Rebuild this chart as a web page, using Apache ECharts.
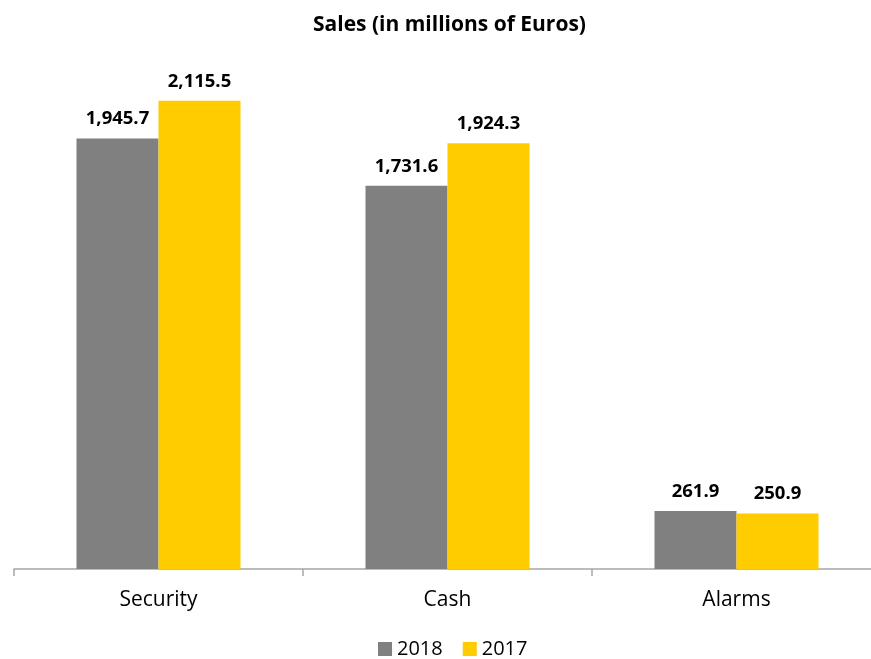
<!DOCTYPE html>
<html>
<head>
<meta charset="utf-8">
<script src="https://cdn.jsdelivr.net/npm/echarts@6/dist/echarts.min.js"></script>
<style>
  html, body { margin: 0; padding: 0; background: #fff; }
  #chart { width: 871px; height: 659px; }
</style>
</head>
<body>
<div id="chart"></div>
<script>
const categories = ["Security", "Cash", "Alarms"];
const sales2018 = [1945.7, 1731.6, 261.9];
const sales2017 = [2115.5, 1924.3, 250.9];
const seriesNames = ["2018", "2017"];

const fontFamily = "'Open Sans', Lato, sans-serif";

function fmt(v) {
  return v.toLocaleString("en-US", { minimumFractionDigits: 1, maximumFractionDigits: 1 });
}

const chart = echarts.init(document.getElementById("chart"));

chart.setOption({
  animation: false,
  title: {
    text: "Sales (in millions of Euros)",
    left: 308,
    top: 10,
    textStyle: { fontFamily: fontFamily, fontSize: 21, fontWeight: "bold", color: "#000" }
  },
  legend: {
    data: seriesNames,
    top: 634,
    left: 373,
    itemWidth: 14,
    itemHeight: 14,
    itemGap: 20,
    icon: "rect",
    textStyle: { fontFamily: fontFamily, fontSize: 20, color: "#000" }
  },
  grid: { left: 14, width: 867, top: 60, bottom: 90, outerBoundsMode: "none" },
  xAxis: {
    type: "category",
    data: categories,
    axisLine: { lineStyle: { color: "#a6a6a6", width: 1.5 } },
    axisTick: { show: true, length: 7, lineStyle: { color: "#a6a6a6", width: 1.5 } },
    axisLabel: { fontFamily: fontFamily, fontSize: 21, color: "#000", margin: 21 }
  },
  yAxis: {
    type: "value",
    min: 0,
    max: 2300,
    show: false,
    splitLine: { show: false }
  },
  series: [
    {
      name: seriesNames[0],
      type: "bar",
      data: sales2018,
      barWidth: 82,
      barGap: 0,
      itemStyle: { color: "#808080" },
      label: {
        show: true,
        position: "top",
        distance: 10,
        formatter: p => fmt(p.value),
        fontFamily: fontFamily,
        fontSize: 18.5,
        fontWeight: "bold",
        color: "#000"
      }
    },
    {
      name: seriesNames[1],
      type: "bar",
      data: sales2017,
      barWidth: 82,
      barGap: 0,
      itemStyle: { color: "#ffcc00" },
      label: {
        show: true,
        position: "top",
        distance: 10,
        formatter: p => fmt(p.value),
        fontFamily: fontFamily,
        fontSize: 18.5,
        fontWeight: "bold",
        color: "#000"
      }
    }
  ]
});
</script>
</body>
</html>
